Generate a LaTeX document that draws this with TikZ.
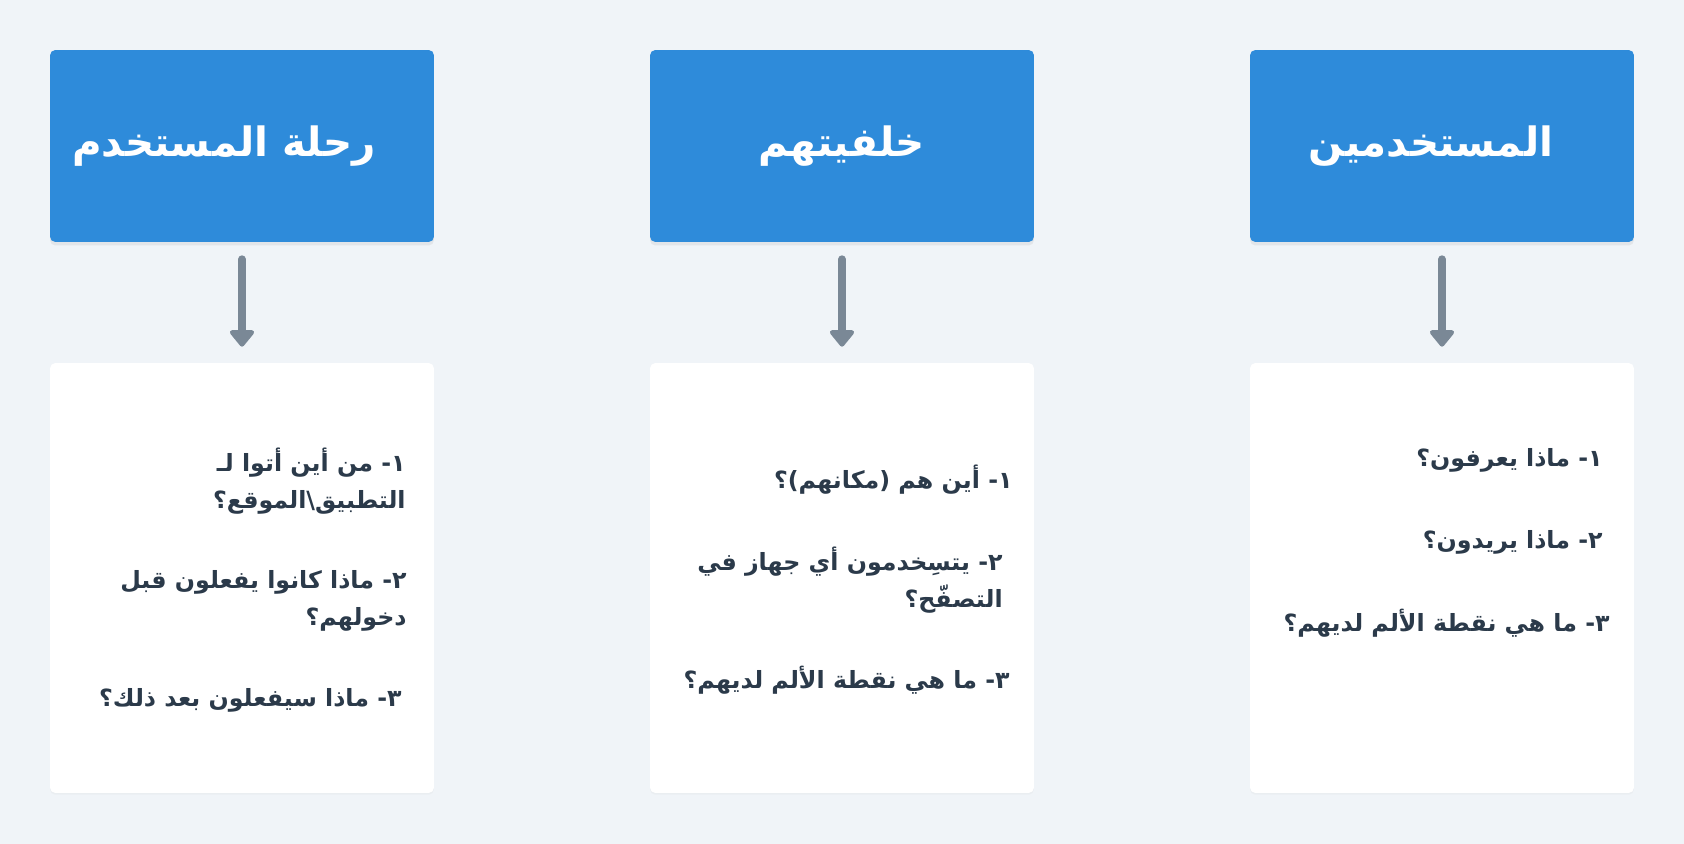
\documentclass[tikz,border=0pt]{standalone}
\usepackage{fontspec}
\usepackage{tikz}
\usetikzlibrary{positioning,arrows.meta,shadows}
\TeXXeTstate=1
\newfontfamily\arabicfont[Script=Arabic]{DejaVu Sans}
\newcommand{\rtl}[1]{\beginR #1\endR}
\definecolor{pagebg}{HTML}{F0F4F8}
\definecolor{headblue}{HTML}{2E8BDA}
\definecolor{arrowgray}{HTML}{7A8896}
\definecolor{textdark}{HTML}{2B3A4A}

\begin{document}
\begin{tikzpicture}[x=0.02cm,y=-0.02cm,
	head/.style={fill=headblue, rounded corners=3pt, minimum width=7.68cm, minimum height=3.84cm, inner sep=0pt, text=white, font=\arabicfont\bfseries\fontsize{23}{28}\selectfont, drop shadow={shadow xshift=0pt, shadow yshift=-2pt, opacity=0.12}},
	card/.style={fill=white, rounded corners=3pt, minimum width=7.68cm, minimum height=8.6cm, inner sep=0pt, drop shadow={shadow xshift=0pt, shadow yshift=-1pt, opacity=0.05}},
	item/.style={anchor=east, align=right, inner sep=0pt, text=textdark, font=\arabicfont\bfseries\fontsize{13.5}{21}\selectfont},
	flow/.style={arrowgray, line width=0.16cm, line cap=round, -{Triangle[width=0.56cm,length=0.36cm,round]}, shorten <=0.34cm, shorten >=0.32cm}]
	\fill[pagebg] (0,0) rectangle (1684,844);
	%
	\node[head] (h1) at (242,146) {\rtl{رحلة المستخدم}\kern0.72cm};
	\node[head] (h2) at (842,146) {\rtl{خلفيتهم}};
	\node[head] (h3) at (1442,146) {\rtl{المستخدمين}\kern0.44cm};
	%
	\node[card] (c1) at (242,578) {};
	\node[card] (c2) at (842,578) {};
	\node[card] (c3) at (1442,578) {};
	%
	\draw[flow] (h1) -- (c1);
	\draw[flow] (h2) -- (c2);
	\draw[flow] (h3) -- (c3);
	%
	\node[item] (c1a) at (406,481) {\rtl{١- من أين أتوا لـ}\\\rtl{التطبيق\textbackslash الموقع؟}};
	\node[item] (c1b) at (407,601) {\rtl{٢- ماذا كانوا يفعلون قبل}\\\rtl{دخولهم؟}};
	\node[item] (c1c) at (402,700) {\rtl{٣- ماذا سيفعلون بعد ذلك؟}};
	%
	\node[item] (c2a) at (1013,480) {\rtl{١- أين هم (مكانهم)؟}};
	\node[item] (c2b) at (1003,580) {\rtl{٢- يتسِخدمون أي جهاز في}\\\rtl{التصفّح؟}};
	\node[item] (c2c) at (1010,680) {\rtl{٣- ما هي نقطة الألم لديهم؟}};
	%
	\node[item] (c3a) at (1603,460) {\rtl{١- ماذا يعرفون؟}};
	\node[item] (c3b) at (1603,542) {\rtl{٢- ماذا يريدون؟}};
	\node[item] (c3c) at (1610,623) {\rtl{٣- ما هي نقطة الألم لديهم؟}};
\end{tikzpicture}
\end{document}
